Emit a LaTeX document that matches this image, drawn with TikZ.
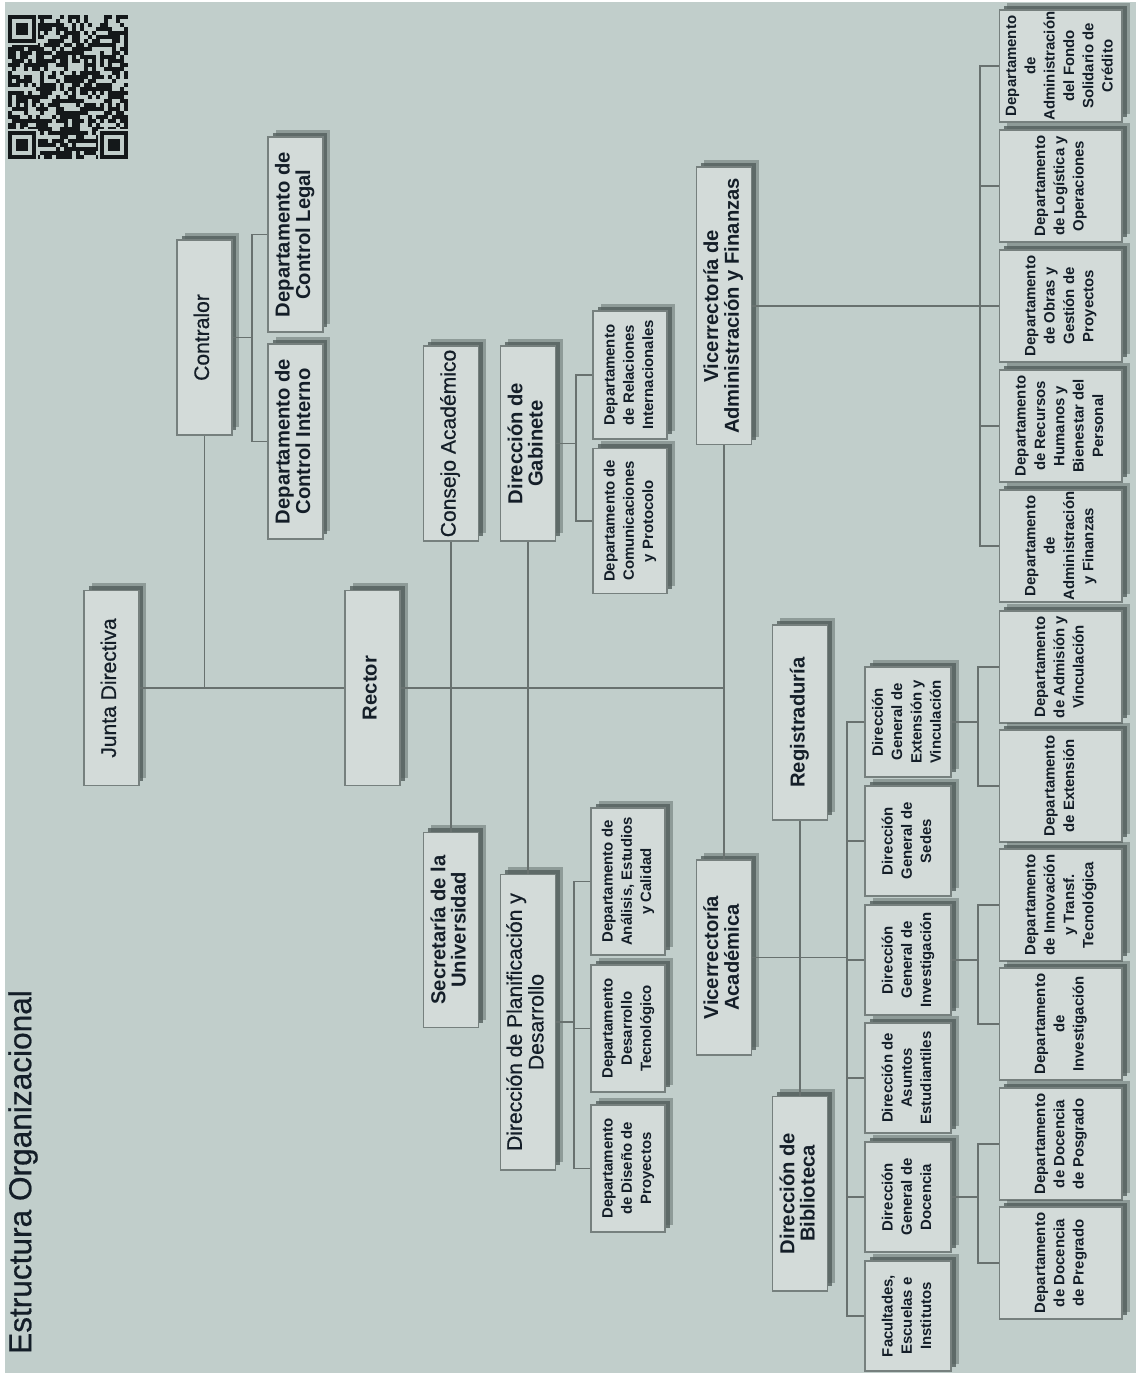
\documentclass[tikz,border=0pt]{standalone}
\usepackage{fontspec}
\setmainfont{Liberation Sans}
\newfontfamily\medio[FakeBold=0.6]{Liberation Sans}
\usepackage{graphicx}
\usetikzlibrary{shadows}
\definecolor{fondo}{RGB}{193,206,203}
\definecolor{relleno}{RGB}{211,219,217}
\definecolor{borde}{RGB}{118,128,126}
\definecolor{sombra}{RGB}{82,94,92}
\definecolor{linea}{RGB}{104,113,111}
\definecolor{letra}{RGB}{20,30,40}
\definecolor{qr}{RGB}{20,24,26}
\newcommand{\vtxt}[1]{\rotatebox{90}{\begin{tabular}{@{}c@{}}#1\end{tabular}}}
\tikzset{
  cajabase/.style={draw=borde, fill=relleno, line width=0.6pt, inner sep=0pt, text=letra,
    drop shadow={shadow xshift=.15cm, shadow yshift=.15cm, fill=sombra, opacity=.45},
    drop shadow={shadow xshift=.09cm, shadow yshift=.09cm, fill=sombra, opacity=.8}},
  cajagrande/.style={cajabase, minimum width=1.1cm, minimum height=3.9cm,
    font=\fontsize{11.5}{11}\selectfont\bfseries},
  letrafina/.style={font=\fontsize{12}{12}\selectfont\medio},
  cajamedia/.style={cajabase, minimum width=1.48cm, font=\fontsize{8.5}{11}\selectfont\bfseries},
  cajadir/.style={cajabase, minimum width=1.72cm, minimum height=2.2cm,
    font=\fontsize{8.5}{11}\selectfont\bfseries},
  cajadep/.style={cajabase, minimum width=2.46cm, minimum height=2.24cm,
    font=\fontsize{8.5}{11}\selectfont\bfseries},
  conector/.style={draw=linea, line width=0.9pt}
}
\begin{document}
\begin{tikzpicture}[x=0.02cm, y=-0.02cm]
\useasboundingbox (0,0) rectangle (1136,1381);
\fill[white] (0,0) rectangle (1136,1381);
\fill[fondo] (5,2) rectangle (1136,1373);

% codigo QR
\pgfmathsetseed{21}
\foreach \i in {0,...,29}
  \foreach \j in {0,...,35}{
    \pgfmathrandominteger{\rq}{0}{9}
    \ifnum\rq<6 \fill[qr] ({8+4*\i},{15+4*\j}) rectangle ++(4,4);\fi
  }
\foreach \qx/\qy in {8/15, 8/131, 100/131}{
  \fill[fondo] (\qx-2,\qy-2) rectangle ++(32,32);
  \fill[qr] (\qx,\qy) rectangle ++(28,28);
  \fill[fondo] (\qx+4,\qy+4) rectangle ++(20,20);
  \fill[qr] (\qx+8,\qy+8) rectangle ++(12,12);
}

\node[text=letra, font=\fontsize{18}{20}\selectfont\medio] (titulo) at (23,1172) {\rotatebox{90}{Estructura Organizacional}};

% autoridades
\node[cajagrande, letrafina] (junta) at (111.5,688) {\vtxt{Junta Directiva}};
\node[cajagrande, letrafina] (contralor) at (204.5,337.5) {\vtxt{Contralor}};
\node[cajagrande] (legal) at (295.5,234.5) {\vtxt{Departamento de\\Control Legal}};
\node[cajagrande] (interno) at (295.5,441.5) {\vtxt{Departamento de\\Control Interno}};
\node[cajagrande] (rector) at (372.5,688) {\vtxt{Rector}};
\node[cajagrande, letrafina] (consejo) at (451,443.5) {\vtxt{Consejo Académico}};
\node[cajagrande] (secretaria) at (451,930) {\vtxt{Secretaría de la\\Universidad}};
\node[cajagrande] (gabinete) at (528,443.5) {\vtxt{Dirección de\\Gabinete}};
\node[cajagrande, letrafina, minimum height=5.92cm] (planificacion) at (528,1022) {\vtxt{Dirección de Planificación y\\Desarrollo}};
\node[cajamedia, minimum height=2.56cm] (relaciones) at (630,375) {\vtxt{Departamento\\de Relaciones\\Internacionales}};
\node[cajamedia, minimum height=2.9cm] (comunicaciones) at (630,521) {\vtxt{Departamento de\\Comunicaciones\\y Protocolo}};
\node[cajamedia, minimum height=2.94cm] (analisis) at (628,881.5) {\vtxt{Departamento de\\Análisis, Estudios\\y Calidad}};
\node[cajamedia, minimum height=2.54cm] (desarrollo) at (628,1028.5) {\vtxt{Departamento\\Desarrollo\\Tecnológico}};
\node[cajamedia, minimum height=2.54cm] (diseno) at (628,1168.5) {\vtxt{Departamento\\de Diseño de\\Proyectos}};
\node[cajagrande, minimum height=5.56cm] (viceadmin) at (724,306) {\vtxt{Vicerrectoría de\\Administración y Finanzas}};
\node[cajagrande] (viceacad) at (724,957.5) {\vtxt{Vicerrectoría\\Académica}};
\node[cajagrande] (registraduria) at (800,722.5) {\vtxt{Registraduría}};
\node[cajagrande] (biblioteca) at (800,1193.5) {\vtxt{Dirección de\\Biblioteca}};

% direcciones
\foreach \nom/\yy/\txt in {extvinc/722/{Dirección\\General de\\Extensión y\\Vinculación},
    sedes/841/{Dirección\\General de\\Sedes}, investig/960/{Dirección\\General de\\Investigación},
    asuntos/1078/{Dirección de\\Asuntos\\Estudiantiles}, docencia/1197/{Dirección\\General de\\Docencia},
    facultades/1316/{Facultades,\\Escuelas e\\Institutos}}
  \node[cajadir] (\nom) at (908,\yy) {\vtxt{\txt}};

% departamentos
\foreach \nom/\yy/\txt in {fondo/66/{Departamento\\de\\Administración\\del Fondo\\Solidario de\\Crédito},
    logistica/186/{Departamento\\de Logística y\\Operaciones},
    obras/306/{Departamento\\de Obras y\\Gestión de\\Proyectos},
    rrhh/426/{Departamento\\de Recursos\\Humanos y\\Bienestar del\\Personal},
    adminfin/546/{Departamento\\de\\Administración\\y Finanzas},
    admision/667/{Departamento\\de Admisión y\\Vinculación},
    extension/786/{Departamento\\de Extensión},
    innovacion/905/{Departamento\\de Innovación\\y Transf.\\Tecnológica},
    investigacion/1024/{Departamento\\de\\Investigación},
    posgrado/1144/{Departamento\\de Docencia\\de Posgrado},
    pregrado/1263/{Departamento\\de Docencia\\de Pregrado}}
  \node[cajadep] (\nom) at (1060.5,\yy) {\vtxt{\txt}};

% lineas
\coordinate (cruce) at (724,688);
\coordinate (bcontr) at (252,337.5);
\coordinate (bgab) at (576,443.5);
\coordinate (bplan) at (574,1022);
\coordinate (badm) at (980,306);
\coordinate (bacad) at (847,957.5);
\coordinate (bext) at (978,722);
\coordinate (binv) at (978,960);
\coordinate (bdoc) at (978,1197);

\draw[conector] (junta.east) -- (rector.west);
\draw[conector] (rector.east) -- (cruce);
\draw[conector] (contralor.south) -- (contralor.south |- junta.east);
\draw[conector] (consejo.south) -- (secretaria.north);
\draw[conector] (gabinete.south) -- (planificacion.north);
\draw[conector] (viceadmin.south) -- (viceacad.north);
\draw[conector] (registraduria.south) -- (biblioteca.north);

\draw[conector] (contralor.east) -- (bcontr);
\draw[conector] (legal.west) -| (bcontr) |- (interno.west);
\draw[conector] (gabinete.east) -- (bgab);
\draw[conector] (relaciones.west) -| (bgab) |- (comunicaciones.west);
\draw[conector] (planificacion.east) -- (bplan);
\draw[conector] (analisis.west) -| (bplan) |- (diseno.west);
\draw[conector] (desarrollo.west) -- (desarrollo.west -| bplan);

\draw[conector] (viceadmin.east) -- (badm);
\draw[conector] (fondo.west) -| (badm) |- (adminfin.west);
\foreach \nom in {logistica, rrhh}
  \draw[conector] (\nom.west) -- (\nom.west -| badm);
\draw[conector] (badm) -- (obras.west);

\draw[conector] (viceacad.east) -- (bacad);
\draw[conector] (extvinc.west) -| (bacad) |- (facultades.west);
\foreach \nom in {sedes, investig, asuntos, docencia}
  \draw[conector] (\nom.west) -- (\nom.west -| bacad);

\draw[conector] (extvinc.east) -- (bext);
\draw[conector] (admision.west) -| (bext) |- (extension.west);
\draw[conector] (investig.east) -- (binv);
\draw[conector] (innovacion.west) -| (binv) |- (investigacion.west);
\draw[conector] (docencia.east) -- (bdoc);
\draw[conector] (posgrado.west) -| (bdoc) |- (pregrado.west);
\end{tikzpicture}
\end{document}
